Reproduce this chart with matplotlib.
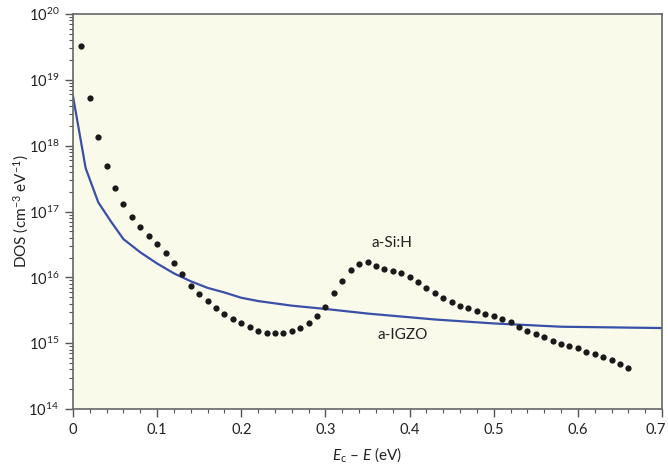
import numpy as np
import matplotlib.pyplot as plt
import matplotlib.transforms as mtransforms
from matplotlib.ticker import MultipleLocator, LogLocator

plt.rcParams['font.family'] = ['Lato', 'DejaVu Sans']
plt.rcParams['mathtext.fontset'] = 'custom'
plt.rcParams['mathtext.rm'] = 'Lato'
plt.rcParams['mathtext.it'] = 'Lato:italic'

# a-Si:H density of states (dots), log10 values
sih_energy = np.round(np.arange(0.01, 0.665, 0.01), 2)
sih_log_dos = [19.52, 18.73, 18.13, 17.69, 17.35, 17.11, 16.91, 16.76, 16.63, 16.50,
               16.37, 16.22, 16.05, 15.87, 15.75, 15.64, 15.54, 15.45, 15.37, 15.30,
               15.24, 15.19, 15.16, 15.15, 15.15, 15.18, 15.23, 15.31, 15.41, 15.55,
               15.76, 15.95, 16.11, 16.21, 16.23, 16.17, 16.13, 16.10, 16.07, 16.01,
               15.93, 15.84, 15.76, 15.68, 15.62, 15.57, 15.53, 15.49, 15.45, 15.41,
               15.36, 15.32, 15.25, 15.19, 15.14, 15.09, 15.04, 14.99, 14.96, 14.92,
               14.87, 14.83, 14.79, 14.75, 14.69, 14.63]

# a-IGZO density of states (line)
igzo_energy = [0.0, 0.015, 0.03, 0.045, 0.06, 0.08, 0.10, 0.12, 0.14, 0.16, 0.18,
               0.20, 0.22, 0.26, 0.30, 0.35, 0.43, 0.50, 0.58, 0.70]
igzo_log_dos = [18.75, 17.66, 17.14, 16.85, 16.58, 16.38, 16.21, 16.06, 15.94, 15.84,
                15.77, 15.69, 15.64, 15.57, 15.52, 15.45, 15.36, 15.30, 15.25, 15.23]

sih_dos = 10 ** np.array(sih_log_dos)
igzo_dos = 10 ** np.array(igzo_log_dos)

fig = plt.figure(figsize=(6.68, 4.69), dpi=100)
ax = fig.add_axes([0.1093, 0.1279, 0.8817, 0.8422])
ax.set_facecolor('#fafaeb')

ax.plot(igzo_energy, igzo_dos, color='#3a4fa8', lw=1.6, zorder=2)
ax.plot(sih_energy, sih_dos, 'o', color='#1a1a1a', ms=4.5, mec='none', zorder=3)

ax.set_yscale('log')
ax.set_xlim(0, 0.7)
ax.set_ylim(1e14, 1e20)

ax.set_xticks(np.arange(0, 0.71, 0.1))
ax.set_xticklabels(['0', '0.1', '0.2', '0.3', '0.4', '0.5', '0.6', '0.7'])
ax.xaxis.set_minor_locator(MultipleLocator(0.02))
ax.yaxis.set_major_locator(LogLocator(base=10, numticks=10))
ax.yaxis.set_minor_locator(LogLocator(base=10, subs=np.arange(2, 10), numticks=20))

ax.tick_params(which='major', direction='out', length=6, width=1, color='#555555',
               labelsize=10.5, labelcolor='#222222', pad=4)
ax.tick_params(which='minor', direction='out', length=3, width=0.8, color='#555555')
ax.tick_params(top=False, right=False, which='both')

# last x label sits against the figure edge
last = ax.get_xticklabels()[-1]
last.set_horizontalalignment('right')
last.set_transform(last.get_transform() +
                   mtransforms.ScaledTranslation(4 / 100, 0, fig.dpi_scale_trans))

for s in ax.spines.values():
    s.set_color('#666666')
    s.set_linewidth(1.2)

ax.text(0.379, 10 ** 16.52, 'a-Si:H', fontsize=11, ha='center', va='center', color='#222222')
ax.text(0.392, 10 ** 15.12, 'a-IGZO', fontsize=11, ha='center', va='center', color='#222222')

ax.set_xlabel(r'$E_{\mathrm{c}}$ – $E$ (eV)', fontsize=11, color='#222222', labelpad=6)
ax.set_ylabel('DOS (cm$^{-3}$ eV$^{-1}$)', fontsize=11, color='#222222', labelpad=-2)

fig.savefig('out.png', dpi=100)
